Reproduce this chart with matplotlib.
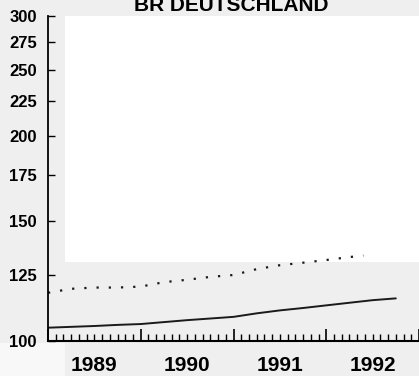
import numpy as np
import matplotlib.pyplot as plt
from matplotlib.patches import Rectangle
from matplotlib.ticker import FixedLocator, FuncFormatter

# Quarterly readings (log scale index, 1989 onwards)
solid_t = [1989.0, 1989.25, 1989.5, 1989.75, 1990.0, 1990.25, 1990.5, 1990.75,
           1991.0, 1991.25, 1991.5, 1991.75, 1992.0, 1992.25, 1992.5, 1992.75]
solid_v = [104.6, 104.9, 105.2, 105.6, 105.9, 106.6, 107.3, 107.9,
           108.5, 109.8, 110.9, 111.8, 112.8, 113.8, 114.8, 115.5]

dotted_t = [1989.0, 1989.25, 1989.5, 1989.75, 1990.0, 1990.25, 1990.5, 1990.75,
            1991.0, 1991.25, 1991.5, 1991.75, 1992.0, 1992.25, 1992.4]
dotted_v = [117.7, 119.3, 119.8, 119.8, 120.2, 122.0, 123.0, 124.2,
            125.0, 127.5, 129.2, 130.3, 131.5, 132.8, 133.5]

y_ticks = [100, 125, 150, 175, 200, 225, 250, 275, 300]
years = [1989, 1990, 1991, 1992]
title = 'BR DEUTSCHLAND'

W, H = 419, 376
plt.rcParams['font.family'] = ['Liberation Sans', 'DejaVu Sans']

fig = plt.figure(figsize=(W / 100, H / 100), dpi=100)
fig.patch.set_facecolor('#efefef')

# scan background: white paper inside the plot area, lighter corner bottom left
fig.patches.append(Rectangle((65 / W, 1 - 262 / H), (W - 65) / W, (262 - 16) / H,
                             transform=fig.transFigure, facecolor='white',
                             edgecolor='none', zorder=-10))
fig.patches.append(Rectangle((0, 0), 65 / W, (H - 343) / H,
                             transform=fig.transFigure, facecolor='#f8f8f8',
                             edgecolor='none', zorder=-10))

ax = fig.add_axes([48 / W, 1 - 341 / H, 1 - 48 / W, (341 - 16) / H])
ax.set_facecolor('none')

ax.plot(solid_t, solid_v, color='#1a1a1a', lw=1.4, solid_capstyle='round')
ax.plot(dotted_t, dotted_v, color='#1a1a1a', lw=1.6, linestyle=(0, (1, 4.5)))

ax.set_yscale('log')
ax.set_ylim(100, 300)
ax.yaxis.set_major_locator(FixedLocator(y_ticks))
ax.yaxis.set_minor_locator(FixedLocator([]))
ax.yaxis.set_major_formatter(FuncFormatter(lambda v, p: f'{v:.0f}'))
ax.tick_params(axis='y', direction='in', length=5, width=1, pad=8,
               labelsize=12)
for lbl in ax.get_yticklabels():
    lbl.set_fontweight('bold')

ax.set_xlim(years[0], years[-1] + 1)
ax.xaxis.set_major_locator(FixedLocator(years + [years[-1] + 1]))
ax.xaxis.set_major_formatter(FuncFormatter(lambda v, p: ''))
months = [y + m / 12 for y in years for m in range(12)]
ax.xaxis.set_minor_locator(FixedLocator(months))
ax.xaxis.set_minor_formatter(FuncFormatter(
    lambda v, p: f'{int(v)}' if abs((v % 1) - 0.5) < 1e-6 else ''))
ax.tick_params(axis='x', which='major', direction='in', length=9, width=1.2)
ax.tick_params(axis='x', which='minor', direction='in', length=5, width=1,
               pad=11, labelsize=15)
for lbl in ax.get_xticklabels(minor=True):
    lbl.set_fontweight('bold')

for side in ['top', 'right']:
    ax.spines[side].set_visible(False)
ax.spines['left'].set_linewidth(1.3)
ax.spines['bottom'].set_linewidth(1.5)

fig.text(231 / W, 1 - 11 / H, title, ha='center', va='baseline',
         fontsize=15, fontweight='bold')

fig.savefig('out.png', dpi=100, facecolor=fig.get_facecolor())
